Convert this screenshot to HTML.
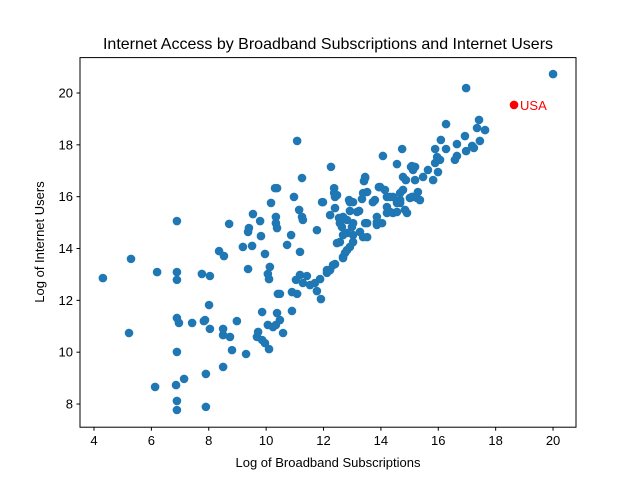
<!DOCTYPE html>
<html><head><meta charset="utf-8"><style>
body{margin:0;background:#fff;}
svg text{font-family:"Liberation Sans","DejaVu Sans",sans-serif;}
</style></head><body>
<svg id="chart" width="640" height="480" viewBox="0 0 640 480">
<rect width="640" height="480" fill="#fff"/>
<text x="328" y="49" font-size="16" text-anchor="middle">Internet Access by Broadband Subscriptions and Internet Users</text>
<g id="ticks"></g>
<g id="points"></g>
<rect x="80" y="57.6" width="496" height="369.6" fill="none" stroke="#000" stroke-width="1"/>
<text x="328" y="467" font-size="13" text-anchor="middle">Log of Broadband Subscriptions</text>
<text transform="translate(44,242) rotate(-90)" font-size="13" text-anchor="middle">Log of Internet Users</text>
</svg>
<script>
const xs=[10.31,10.17,9.54,9.79,10.34,6.89,8.71,9.40,9.37,9.82,9.19,9.51,8.36,8.53,9.96,5.29,10.13,9.37,6.20,6.89,6.89,7.76,8.04,10.06,10.10,4.31,10.41,8.01,9.86,10.38,6.89,6.96,7.42,7.87,7.83,8.98,8.04,8.50,10.06,10.34,5.22,8.50,8.74,9.72,9.68,9.86,9.96,10.10,8.81,6.89,9.30,8.50,7.90,7.14,6.86,6.13,6.89,6.89,7.90,
11.08,14.74,14.07,14.56,12.26,15.05,15.19,13.45,11.25,13.41,14.77,14.87,15.19,10.38,12.37,12.37,13.93,14.14,14.77,13.52,10.97,12.40,11.95,12.89,13.03,13.34,13.79,14.32,14.67,15.01,15.26,12.40,11.15,12.92,13.24,10.34,11.25,11.28,12.23,10.38,12.54,12.82,13.86,14.21,14.42,14.91,11.77,12.64,12.99,13.45,13.86,10.87,12.68,13.03,13.38,10.73,11.18,12.47,12.92,12.75,12.68,12.40,12.23,12.12,11.88,11.18,11.42,11.04,11.28,11.53,11.70,11.77,11.91,10.48,10.90,11.08,10.90,10.48,10.59,10.24,
20.0,16.97,16.27,17.42,17.35,17.63,16.93,16.65,17.45,17.18,17.24,16.97,16.09,15.89,16.27,16.65,16.58,15.96,16.06,15.89,15.99,15.08,15.12,15.64,15.47,15.82,15.29,15.08,14.42,14.21,14.67,14.84,14.56,14.04,
13.45,12.47,11.98,12.92,13.38,13.97,13.72,14.21,14.67,15.12,15.36,14.56,14.32,13.17,12.68,12.57,13.03,13.52,13.86,12.82,13.27,13.52,12.57,13.03,12.82,12.68,12.33,12.12];
const ys=[16.33,15.76,15.33,15.06,14.98,15.06,14.95,14.79,14.64,14.48,14.06,14.10,13.90,13.71,13.79,13.60,13.29,13.21,13.09,13.09,12.79,13.02,12.94,13.02,12.82,12.86,12.25,11.82,11.55,11.51,11.32,11.13,11.13,11.24,11.20,11.20,10.90,10.90,11.05,11.05,10.74,10.66,10.59,10.78,10.59,10.47,10.35,10.12,10.08,10.01,9.93,9.43,9.16,8.97,8.73,8.66,8.12,7.77,7.89,
18.15,17.84,17.57,17.26,17.15,17.15,17.15,16.76,16.72,16.60,16.76,16.64,16.64,16.33,16.33,16.14,16.37,16.26,16.26,16.18,15.99,15.99,15.79,15.87,15.79,15.91,15.87,15.99,15.87,15.95,15.95,15.56,15.49,15.45,15.45,15.22,15.22,15.10,15.29,14.79,15.18,15.10,15.22,15.37,15.37,15.37,14.71,14.83,14.83,14.98,14.91,14.52,14.52,14.52,14.44,14.14,13.87,14.21,14.06,13.83,13.67,13.40,13.17,13.06,12.82,12.98,12.94,12.79,12.67,12.59,12.67,12.36,12.05,12.25,12.32,12.25,11.59,11.24,10.74,10.97,
20.73,20.19,18.80,18.96,18.65,18.57,18.34,18.03,18.15,17.96,17.88,17.76,18.19,17.84,17.84,17.57,17.42,17.53,17.42,17.30,16.95,17.18,17.03,17.03,16.76,16.64,16.18,15.99,15.99,15.60,15.76,15.49,15.41,14.98,
16.72,16.06,15.79,15.79,16.14,16.37,15.79,15.99,16.14,15.99,15.87,15.76,15.41,15.41,15.22,14.98,14.98,14.98,15.02,14.60,14.64,14.44,14.25,14.25,13.94,13.63,13.36,13.17];
const highlightX=[18.64];
const highlightY=[19.54];
const highlightLabel=["USA"];
const xTicks=[4,6,8,10,12,14,16,18,20];
const yTicks=[8,10,12,14,16,18,20];

const NS="http://www.w3.org/2000/svg";
const X0=80,X1=576,Y0=427.2,Y1=57.6,XMIN=3.512,XMAX=20.80,YMIN=7.106,YMAX=21.366;
function sx(v){return X0+(v-XMIN)/(XMAX-XMIN)*(X1-X0);}
function sy(v){return Y0-(v-YMIN)/(YMAX-YMIN)*(Y0-Y1);}
function mk(t,a){const e=document.createElementNS(NS,t);for(const k in a)e.setAttribute(k,a[k]);return e;}
const tg=document.getElementById('ticks');
xTicks.forEach(t=>{
  const l=mk('line',{x1:sx(t),x2:sx(t),y1:Y0,y2:Y0+3.5,stroke:'#000'});
  
  
  tg.appendChild(l);
  const tx=mk('text',{x:sx(t),y:Y0+18,'font-size':13,'text-anchor':'middle'});
  tx.textContent=t;
  
  
  tg.appendChild(tx);
});
yTicks.forEach(t=>{
  const l=mk('line',{x1:X0-3.5,x2:X0,y1:sy(t),y2:sy(t),stroke:'#000'});
  
  
  tg.appendChild(l);
  const tx=mk('text',{x:X0-7,y:sy(t)+4.5,'font-size':13,'text-anchor':'end'});
  tx.textContent=t;
  
  
  tg.appendChild(tx);
});
const pg=document.getElementById('points');
xs.forEach((x,i)=>{
  const c=mk('circle',{cx:sx(x),cy:sy(ys[i]),r:4.3,fill:'#1f77b4'});
  
  
  pg.appendChild(c);
});
highlightX.forEach((x,i)=>{
  const c=mk('circle',{cx:sx(x),cy:sy(highlightY[i]),r:4.3,fill:'red'});
  
  
  pg.appendChild(c);
  const t=mk('text',{x:sx(x)+6,y:sy(highlightY[i])+5,'font-size':13,fill:'red'});
  t.textContent=highlightLabel[i];
  
  
  pg.appendChild(t);
});
</script>
</body></html>
